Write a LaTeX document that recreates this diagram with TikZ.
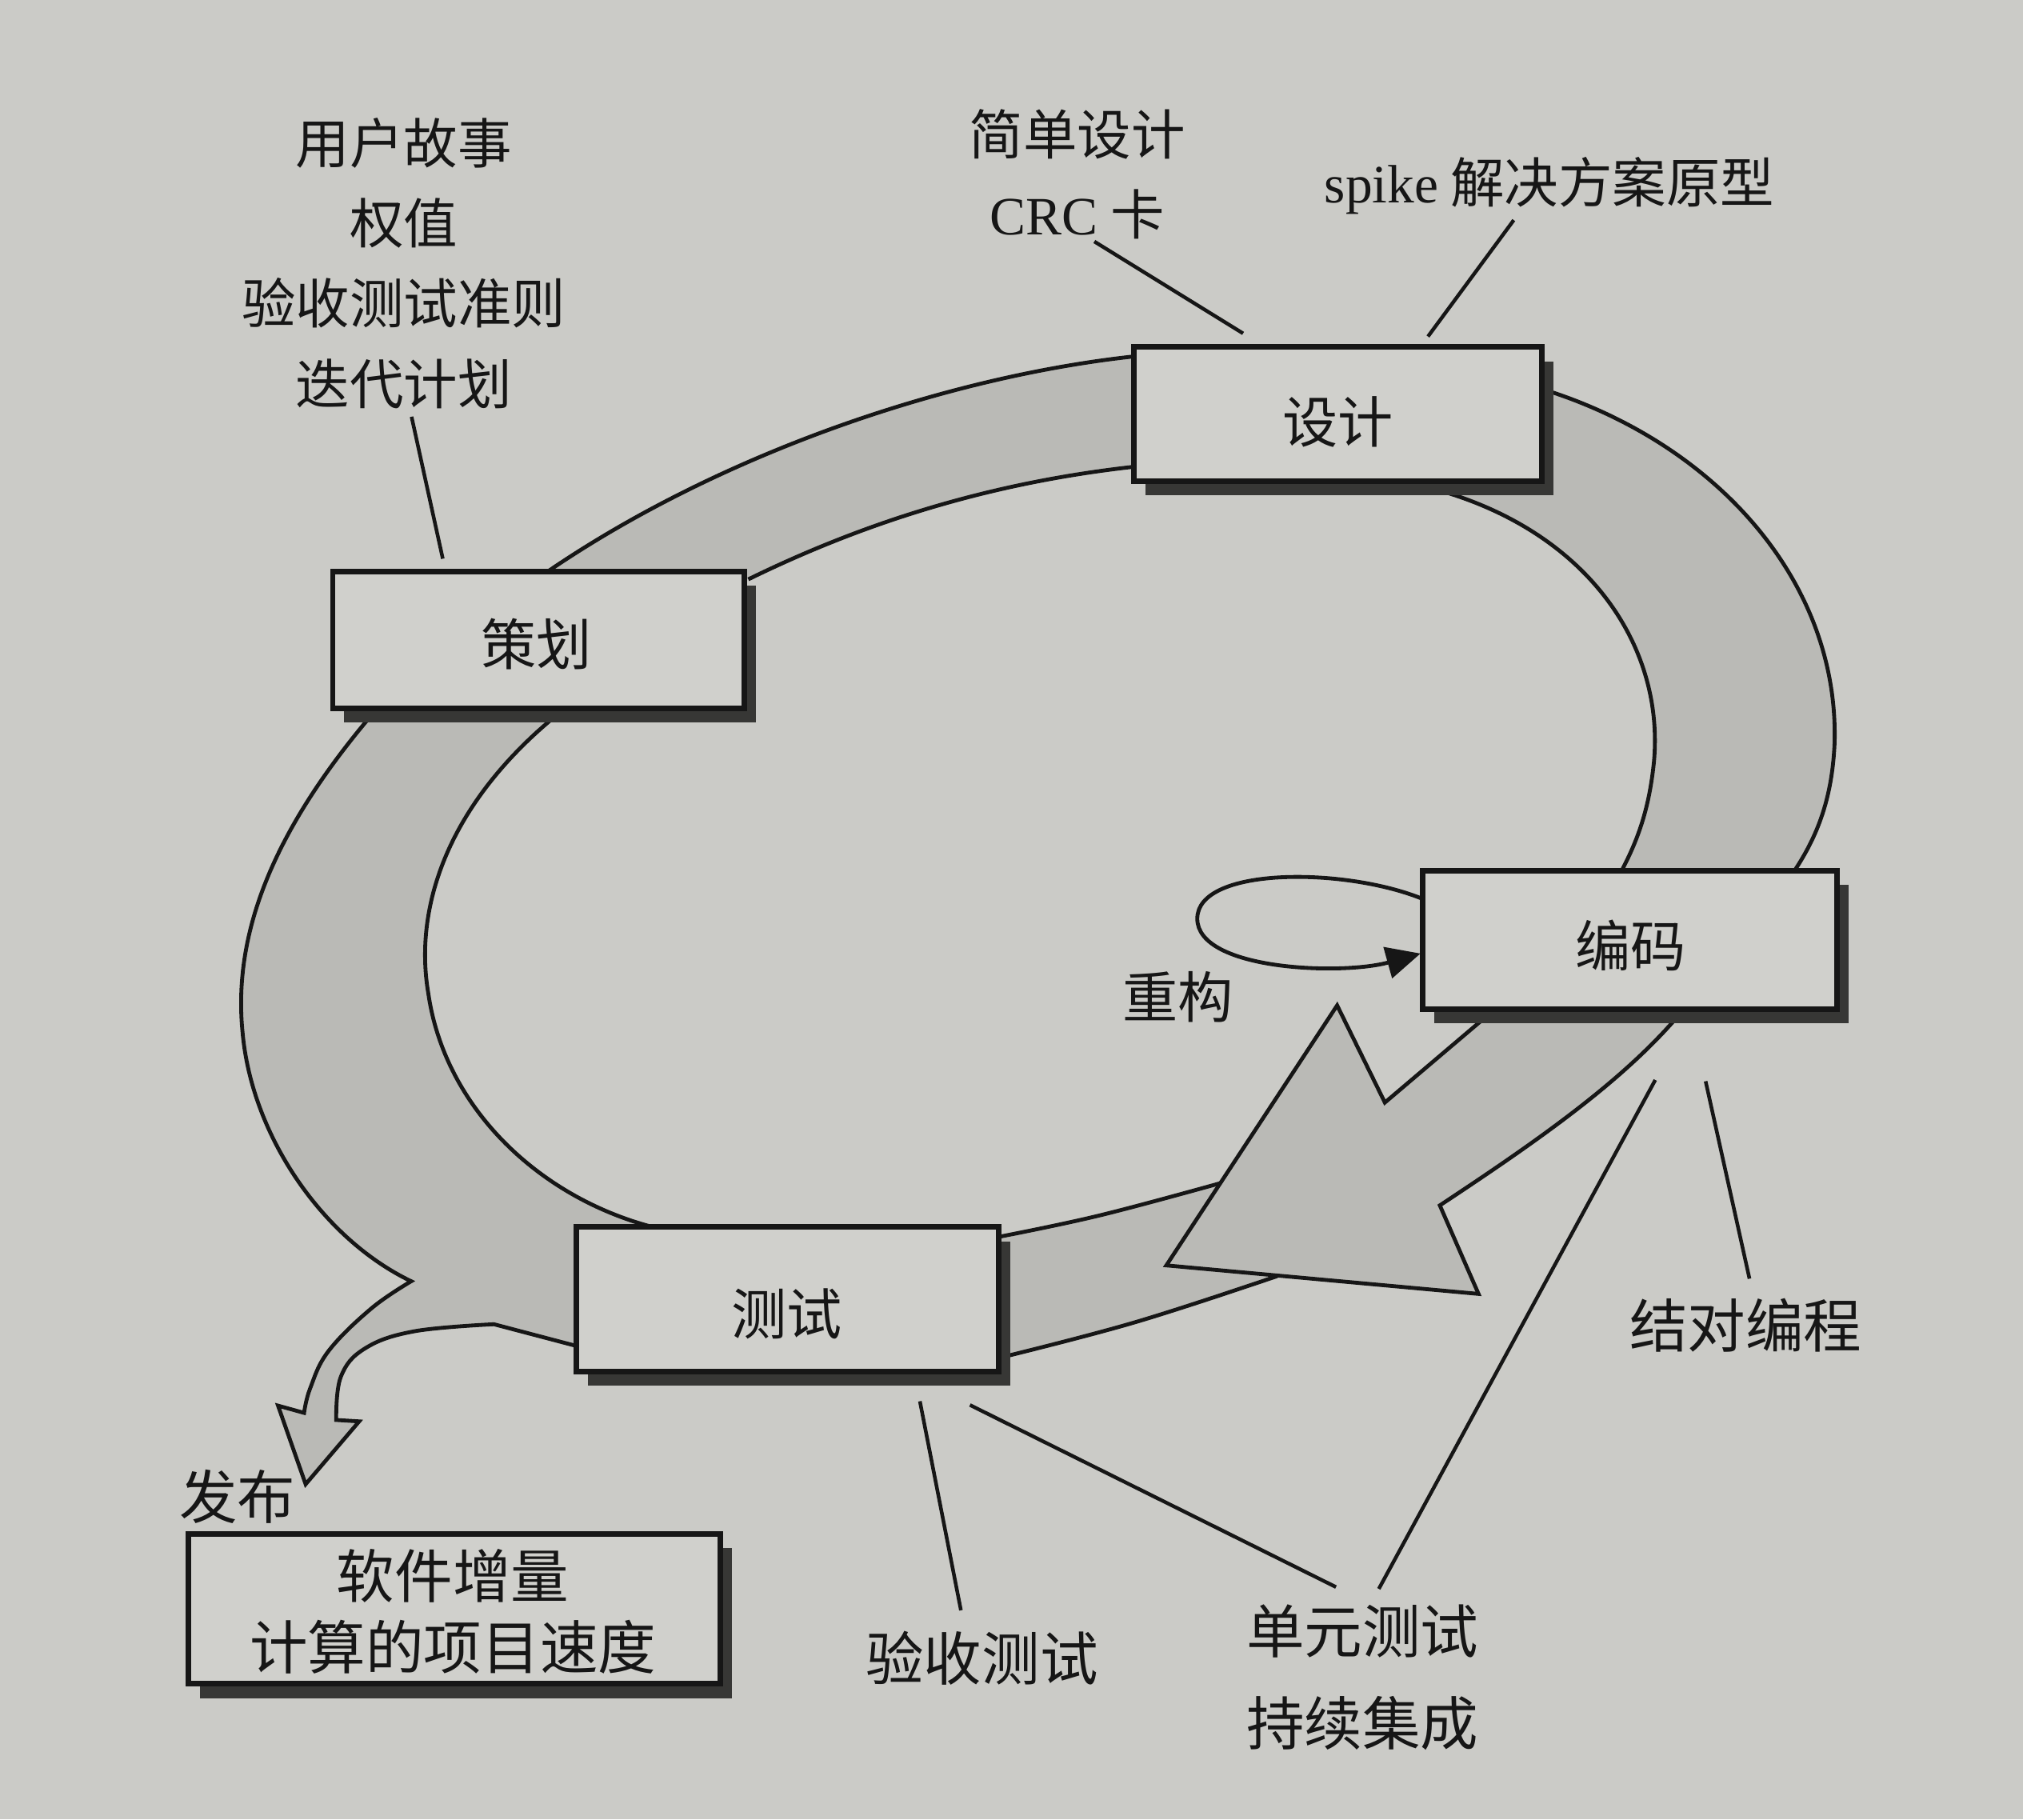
\documentclass[tikz,border=0pt]{standalone}
\usepackage{fontspec}
\newfontfamily\cjk{Noto Sans CJK SC}
\newfontfamily\lat{Liberation Serif}
\usetikzlibrary{arrows.meta,shadows}
\definecolor{paper}{RGB}{203,203,199}
\definecolor{bandc}{RGB}{186,186,182}
\definecolor{boxc}{RGB}{208,208,204}
\definecolor{shadowc}{RGB}{55,55,53}
\definecolor{ink}{RGB}{22,22,22}
\newcommand\fsTop{\cjk\fontsize{11.9}{17.7}\selectfont}
\newcommand\fsMid{\cjk\fontsize{12.2}{15}\selectfont}
\newcommand\fsBot{\cjk\fontsize{12.8}{19.9}\selectfont}
\newcommand\fsRel{\cjk\fontsize{12.8}{15.6}\selectfont}
\begin{document}
\begin{tikzpicture}[x=0.01cm, y=-0.01cm,
  bandline/.style={draw=ink, line width=0.85pt, line join=miter},
  procbox/.style={draw=ink, fill=boxc, line width=1.2pt, inner sep=0pt,
    drop shadow={shadow xshift=0.09cm, shadow yshift=-0.11cm, fill=shadowc, opacity=1}},
  leader/.style={draw=ink, line width=0.8pt},
  lbl/.style={text=ink, inner sep=0pt, align=center},
  sm/.style={smooth, tension=0.65},
]
\fill[paper] (0,0) rectangle (1568,1410);
\useasboundingbox (0,0) rectangle (1568,1410);

% ---------- band fills ----------
% planning -> design
\fill[bandc] (423,444) .. controls (560,350) and (740,290) .. (886,275.5)
  -- (886,361) .. controls (780,372) and (680,400) .. (580,449) -- cycle;
% design -> coding
\fill[bandc] (1200,303) .. controls (1330,345) and (1425,450) .. (1422,575)
  .. controls (1420,625) and (1405,655) .. (1386,682)
  -- (1253,682) .. controls (1268,655) and (1278,630) .. (1282,590)
  .. controls (1290,500) and (1230,410) .. (1108,378) -- cycle;
% coding -> arrow head
\fill[bandc] (1160,781) -- (1073.4,854.5) -- (1036.4,779.2) -- (904,980.7) -- (1146,1002.8) -- (1116,934.2)
  .. controls (1195,882) and (1262,835) .. (1306,781) -- cycle;
% arrow head -> test
\fill[bandc] plot[sm] coordinates {(945.8,917) (851.4,942.2) (772,959)} -- (772,1053)
  -- plot[sm] coordinates {(772,1053) (879,1025) (990,989)} -- cycle;
% test -> planning, with release branch
\fill[bandc] (289,553) .. controls (215,640) and (180,720) .. (188,800)
  .. controls (195,880) and (250,960) .. (318.7,993)
  -- plot[sm] coordinates {(318.7,993) (287.9,1014) (254.7,1047) (240.4,1076) (235.7,1095)}
  -- (215.5,1089.4) -- (236.9,1150.3) -- (278.4,1101.6)
  -- plot[sm] coordinates {(260.6,1100.5) (264.2,1067) (283,1045) (321,1031.8) (382.8,1026.3)}
  -- (452,1044) -- (452,956) -- (510,952)
  .. controls (420,930) and (345,860) .. (332,770)
  .. controls (320,700) and (350,620) .. (433,553) -- cycle;

% ---------- band outlines ----------
\draw[bandline] (423,444) .. controls (560,350) and (740,290) .. (886,275.5);
\draw[bandline] (580,449) .. controls (680,400) and (780,372) .. (886,361);
\draw[bandline] (1200,303) .. controls (1330,345) and (1425,450) .. (1422,575)
  .. controls (1420,625) and (1405,655) .. (1386,682);
\draw[bandline] (1108,378) .. controls (1230,410) and (1290,500) .. (1282,590)
  .. controls (1278,630) and (1268,655) .. (1253,682);
\draw[bandline] (1160,781) -- (1073.4,854.5) -- (1036.4,779.2) -- (904,980.7) -- (1146,1002.8) -- (1116,934.2)
  .. controls (1195,882) and (1262,835) .. (1306,781);
\draw[bandline] plot[sm] coordinates {(945.8,917) (851.4,942.2) (772,959)};
\draw[bandline] plot[sm] coordinates {(990,989) (879,1025) (772,1053)};
\draw[bandline] (289,553) .. controls (215,640) and (180,720) .. (188,800)
  .. controls (195,880) and (250,960) .. (318.7,993)
  -- plot[sm] coordinates {(318.7,993) (287.9,1014) (254.7,1047) (240.4,1076) (235.7,1095)}
  -- (215.5,1089.4) -- (236.9,1150.3) -- (278.4,1101.6)
  -- plot[sm] coordinates {(260.6,1100.5) (264.2,1067) (283,1045) (321,1031.8) (382.8,1026.3)}
  -- (450,1044);
\draw[bandline] (433,553) .. controls (350,620) and (320,700) .. (332,770)
  .. controls (345,860) and (420,930) .. (510,952);

% ---------- boxes ----------
\node[procbox, minimum width=3.19cm, minimum height=1.06cm] (plan) at (417.5,496) {};
\node[procbox, minimum width=3.16cm, minimum height=1.04cm] (design) at (1037,321) {};
\node[procbox, minimum width=3.21cm, minimum height=1.07cm] (code) at (1263.5,728.5) {};
\node[procbox, minimum width=3.27cm, minimum height=1.12cm] (test) at (610.5,1007) {};
\node[procbox, minimum width=4.12cm, minimum height=1.16cm] (release) at (352,1247) {};

\node[lbl, font=\fsMid] (plantxt) at (416,499) {策划};
\node[lbl, font=\fsMid] (designtxt) at (1037,327) {设计};
\node[lbl, font=\fsMid] (codetxt) at (1264,733) {编码};
\node[lbl, font=\fsMid] (testtxt) at (610,1018) {测试};
\node[lbl, font=\fsRel] (reltxt) at (351,1249) {软件增量\\计算的项目速度};

% ---------- refactoring loop ----------
\coordinate (rfA) at (1101,696);
\coordinate (rfB) at (1101,739);
\draw[bandline, -{Triangle[length=7.5pt,width=7pt]}] (rfA) .. controls (1040,672) and (928,672) .. (928,712)
  .. controls (928,752) and (1040,756) .. (rfB);

% ---------- texts ----------
\node[lbl, font=\fsTop] (plannotes) at (313,204) {用户故事\\权值\\验收测试准则\\迭代计划};
\node[lbl, font=\fsTop] (designnotes) at (835,135) {简单设计\\{\lat CRC} 卡};
\node[lbl, font=\fsTop] (spike) at (1201,144) {{\lat spike} 解决方案原型};
\node[lbl, font=\fsMid] (refactor) at (913,773) {重构};
\node[lbl, font=\fsBot] (pair) at (1353,1027) {结对编程};
\node[lbl, font=\fsBot] (accept) at (761,1285) {验收测试};
\node[lbl, font=\fsBot] (unit) at (1056,1300) {单元测试\\[0.5pt]持续集成};
\node[lbl, font=\fsBot] (publish) at (184,1160) {发布};

% ---------- leader lines ----------
\coordinate (l1a) at (319,323);   \coordinate (l1b) at (343.2,433);
\coordinate (l2a) at (848.2,187.2); \coordinate (l2b) at (963.5,258.4);
\coordinate (l3a) at (1173.3,170.6); \coordinate (l3b) at (1106.8,260.8);
\coordinate (l4a) at (1356,991);  \coordinate (l4b) at (1322,838);
\coordinate (l5a) at (744.8,1248); \coordinate (l5b) at (713,1086);
\coordinate (l6a) at (1035.5,1230); \coordinate (l6b) at (751.8,1088.9);
\coordinate (l7a) at (1068.7,1231.4); \coordinate (l7b) at (1283,837);
\draw[leader] (l1a) -- (l1b);
\draw[leader] (l2a) -- (l2b);
\draw[leader] (l3a) -- (l3b);
\draw[leader] (l4a) -- (l4b);
\draw[leader] (l5a) -- (l5b);
\draw[leader] (l6a) -- (l6b);
\draw[leader] (l7a) -- (l7b);
\end{tikzpicture}
\end{document}
